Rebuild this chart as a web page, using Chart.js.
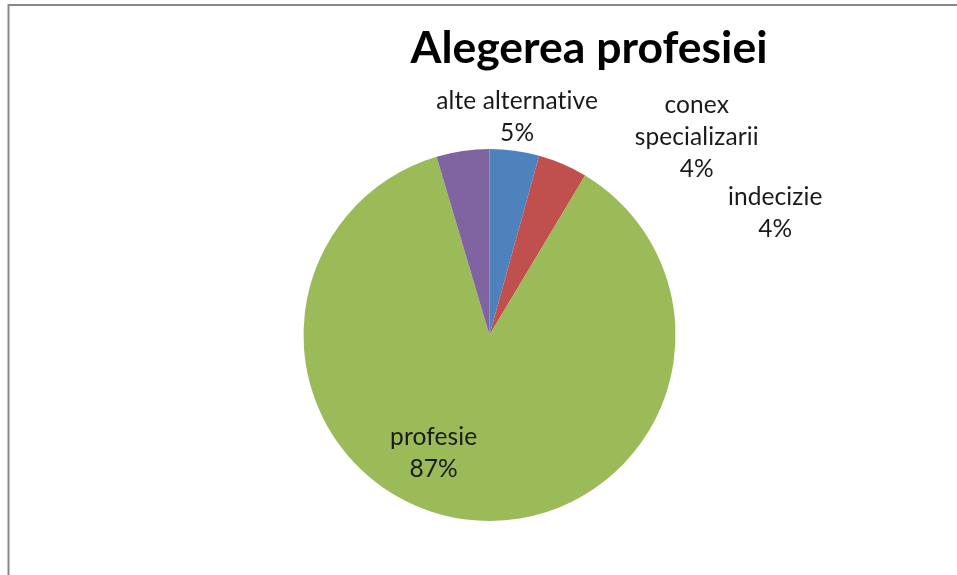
<!DOCTYPE html>
<html>
<head>
<meta charset="utf-8">
<script src="https://cdn.jsdelivr.net/npm/chart.js@4/dist/chart.umd.min.js"></script>
<style>
  html, body { margin: 0; padding: 0; background: #fff; overflow: hidden; }
  #wrap { width: 957px; height: 575px; }
</style>
</head>
<body>
<div id="wrap"><canvas id="pie"></canvas></div>
<script>
// chart data
const chartTitle = 'Alegerea profesiei';
const categories = ['conex specializarii', 'indecizie', 'profesie', 'alte alternative'];
const shares = [4.3, 4.3, 86.9, 4.6];
const sliceColors = ['#4F81BD', '#C0504D', '#9BBB59', '#8064A2'];

// where each label sits: shift from slice mid angle (deg) and distance as part of radius
const labelShift = [38.6, 43.7, 18.2, 15.5];
const labelDist = [1.54, 1.67, 0.70, 1.18];

const labelFont = 'Lato';
const labelSize = 24.5;
const titleSize = 44.5;

// frame lines like the excel chart border (only top and left are visible)
const framePlugin = {
  id: 'frame',
  beforeDraw(chart) {
    const ctx = chart.ctx;
    ctx.save();
    ctx.strokeStyle = '#878787';
    ctx.lineWidth = 2;
    ctx.beginPath();
    ctx.moveTo(8.5, chart.height);
    ctx.lineTo(8.5, 5);
    ctx.lineTo(chart.width, 5);
    ctx.stroke();
    ctx.restore();
  }
};

// title, centred over the whole (wider) chart object, not over the pie
const titlePlugin = {
  id: 'bigTitle',
  afterDraw(chart) {
    const ctx = chart.ctx;
    ctx.save();
    ctx.font = 'bold ' + titleSize + 'px ' + labelFont;
    ctx.fillStyle = '#000';
    ctx.textAlign = 'center';
    ctx.textBaseline = 'alphabetic';
    ctx.fillText(chartTitle, 589, 63);
    ctx.restore();
  }
};

function wrapWords(ctx, text, maxW) {
  const words = text.split(' ');
  const lines = [];
  let cur = '';
  words.forEach(w => {
    const test = cur ? cur + ' ' + w : w;
    if (cur && ctx.measureText(test).width > maxW) {
      lines.push(cur);
      cur = w;
    } else {
      cur = test;
    }
  });
  if (cur) lines.push(cur);
  return lines;
}

const labelPlugin = {
  id: 'sliceLabels',
  afterDatasetsDraw(chart) {
    const ctx = chart.ctx;
    const meta = chart.getDatasetMeta(0);
    const vals = chart.data.datasets[0].data;
    const total = vals.reduce((a, b) => a + b, 0);
    ctx.save();
    ctx.font = labelSize + 'px ' + labelFont;
    if ('letterSpacing' in ctx) ctx.letterSpacing = '0.1px'; // no "ti" ligature
    ctx.fillStyle = '#1a1a1a';
    ctx.textAlign = 'center';
    ctx.textBaseline = 'middle';
    const lineH = 32;
    meta.data.forEach((arc, i) => {
      const p = arc.getProps(['x', 'y', 'startAngle', 'endAngle', 'outerRadius'], true);
      const mid = (p.startAngle + p.endAngle) / 2 + labelShift[i] * Math.PI / 180;
      const r = p.outerRadius * labelDist[i];
      const cx = p.x + Math.cos(mid) * r;
      const cy = p.y + Math.sin(mid) * r;
      const lines = wrapWords(ctx, chart.data.labels[i], 175);
      lines.push(Math.round(vals[i] / total * 100) + '%');
      const top = cy - (lines.length - 1) * lineH / 2;
      lines.forEach((ln, k) => ctx.fillText(ln, cx, top + k * lineH));
    });
    ctx.restore();
  }
};

new Chart(document.getElementById('pie'), {
  type: 'pie',
  data: {
    labels: categories,
    datasets: [{
      data: shares,
      backgroundColor: sliceColors,
      borderWidth: 0
    }]
  },
  options: {
    responsive: true,
    maintainAspectRatio: false,
    animation: false,
    layout: {
      padding: { top: 149, bottom: 54, left: 122, right: 100 }
    },
    plugins: {
      legend: { display: false },
      title: { display: false },
      tooltip: { enabled: false }
    }
  },
  plugins: [framePlugin, titlePlugin, labelPlugin]
});
</script>
</body>
</html>
